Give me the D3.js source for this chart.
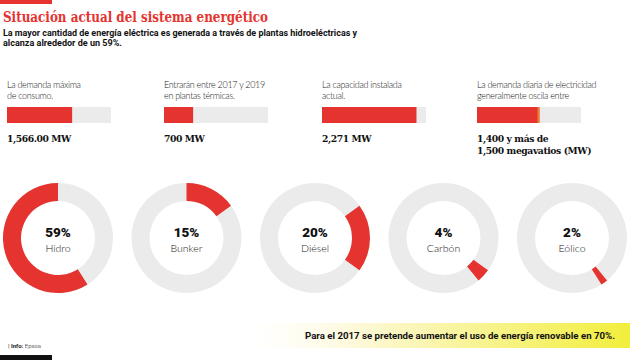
<!DOCTYPE html>
<html><head><meta charset="utf-8">
<script src="https://cdn.jsdelivr.net/npm/d3@7"></script>
<style>body{margin:0;background:#fff}svg{display:block}</style>
</head><body>
<script>
// ---- data ----
const title = "Situación actual del sistema energético";
const subtitle = ["La mayor cantidad de energía eléctrica es generada a través de plantas hidroeléctricas y", "alcanza alrededor de un 59%."];
const barLabels = [["La demanda máxima", "de consumo."], ["Entrarán entre 2017 y 2019", "en plantas térmicas."], ["La capacidad instalada", "actual."], ["La demanda diaria de electricidad", "generalmente oscila entre"]];
const barValues = [1566, 700, 2271, 1500];
const barLow = [null, null, null, 1400];
const barValueTexts = [["1,566.00 MW"], ["700 MW"], ["2,271 MW"], ["1,400 y más de", "1,500 megavatios (MW)"]];
const barMax = 2500;
const sources = ["Hidro", "Bunker", "Diésel", "Carbón", "Eólico"];
const shares = [59, 15, 20, 4, 2];
const pieOrder = ["Bunker", "Diésel", "Carbón", "Eólico", "Hidro"];
const footnote = "Para el 2017 se pretende aumentar el uso de energía renovable en 70%.";

const W = 630, H = 360;
const RED = "#e5332f", GRAY = "#ebebeb";
const svg = d3.select("body").append("svg").attr("width", W).attr("height", H);
const defs = svg.append("defs");

// top red tab
svg.append("rect").attr("x", 0).attr("y", 0).attr("width", 52).attr("height", 4).attr("fill", RED);
svg.append("text").attr("x", 3).attr("y", 22).text(title)
  .attr("font-family", "DejaVu Serif").attr("font-weight", "bold").attr("font-size", 15)
  .attr("fill", RED).attr("textLength", 265).attr("lengthAdjust", "spacingAndGlyphs");
svg.selectAll("text.sub").data(subtitle).join("text").attr("class", "sub")
  .attr("x", 3).attr("y", (d, i) => 36 + i * 10).text(d => d)
  .attr("font-family", "Roboto").attr("font-weight", "bold").attr("font-size", 9.5).attr("fill", "#111")
  .attr("textLength", (d, i) => i === 0 ? 354 : 119).attr("lengthAdjust", "spacingAndGlyphs");

// bars
const bx = [7, 164, 322, 477];
const bw = 104;
const xs = d3.scaleLinear().domain([0, barMax]).range([0, bw]);
const g = svg.selectAll("g.bar").data(barValues).join("g").attr("class", "bar")
  .attr("transform", (d, i) => `translate(${bx[i]},0)`);
g.each(function (d, i) {
  const s = d3.select(this);
  s.selectAll("text.lab").data(barLabels[i]).join("text").attr("class", "lab")
    .attr("x", 0).attr("y", (t, j) => 88 + j * 10.5).text(t => t)
    .attr("font-family", "Lato").attr("font-weight", 300).attr("font-size", 9).attr("fill", "#1a1a1a")
    .attr("letter-spacing", -0.3);
  s.append("rect").attr("x", 0).attr("y", 107).attr("width", bw).attr("height", 16).attr("fill", GRAY);
  s.append("rect").attr("x", 0).attr("y", 107).attr("width", xs(d)).attr("height", 16).attr("fill", RED);
  if (barLow[i] != null) {
    s.append("rect").attr("x", xs(d) - 2).attr("y", 107).attr("width", 2).attr("height", 16).attr("fill", "#f07a2a");
  }
  s.selectAll("text.val").data(barValueTexts[i]).join("text").attr("class", "val")
    .attr("x", 0).attr("y", (t, j) => 142 + j * 11.5).text(t => t)
    .attr("font-family", "DejaVu Serif").attr("font-weight", "bold").attr("font-size", 9.2).attr("fill", "#111")
    .attr("letter-spacing", -0.4);
});

// donuts
const pie = d3.pie().sort(null).value(d => d.v);
const slices = pie(pieOrder.map(n => ({ n, v: shares[sources.indexOf(n)] })));
const arc = d3.arc().innerRadius(37).outerRadius(55);
const cx = d3.scalePoint().domain(sources).range([58, 572]);
const dg = svg.selectAll("g.donut").data(sources).join("g").attr("class", "donut")
  .attr("transform", d => `translate(${cx(d)},238)`);
dg.append("path").attr("d", arc({ startAngle: 0, endAngle: 2 * Math.PI })).attr("fill", GRAY);
dg.append("path").attr("d", d => arc(slices.find(s => s.data.n === d))).attr("fill", RED);
dg.append("text").attr("text-anchor", "middle").attr("y", -1).text((d, i) => shares[i] + "%")
  .attr("font-family", "Roboto").attr("font-weight", 900).attr("font-size", 13.5).attr("fill", "#111");
dg.append("text").attr("text-anchor", "middle").attr("y", 13.5).text(d => d)
  .attr("font-family", "Lato").attr("font-weight", 300).attr("font-size", 10.5).attr("fill", "#1a1a1a");

// footer
const grad = defs.append("linearGradient").attr("id", "yg").attr("x1", 0).attr("x2", 1);
grad.append("stop").attr("offset", 0).attr("stop-color", "#fffbe6").attr("stop-opacity", 0);
grad.append("stop").attr("offset", 0.35).attr("stop-color", "#fcf7c9");
grad.append("stop").attr("offset", 1).attr("stop-color", "#f2ee3c");
svg.append("rect").attr("x", 250).attr("y", 323).attr("width", 380).attr("height", 25).attr("fill", "url(#yg)");
svg.append("text").attr("x", 305).attr("y", 339).text(footnote)
  .attr("font-family", "Roboto").attr("font-weight", "bold").attr("font-size", 9.5).attr("fill", "#111")
  .attr("textLength", 310).attr("lengthAdjust", "spacingAndGlyphs");
const info = svg.append("text").attr("x", 8).attr("y", 348).attr("font-size", 6).attr("fill", "#222").attr("font-family", "Roboto");
info.append("tspan").text("| ");
info.append("tspan").attr("font-weight", "bold").text("Info:");
info.append("tspan").attr("font-weight", 300).text(" Epasa");
svg.append("rect").attr("x", 0).attr("y", 355).attr("width", 52).attr("height", 5).attr("fill", "#111");
</script>
</body></html>
